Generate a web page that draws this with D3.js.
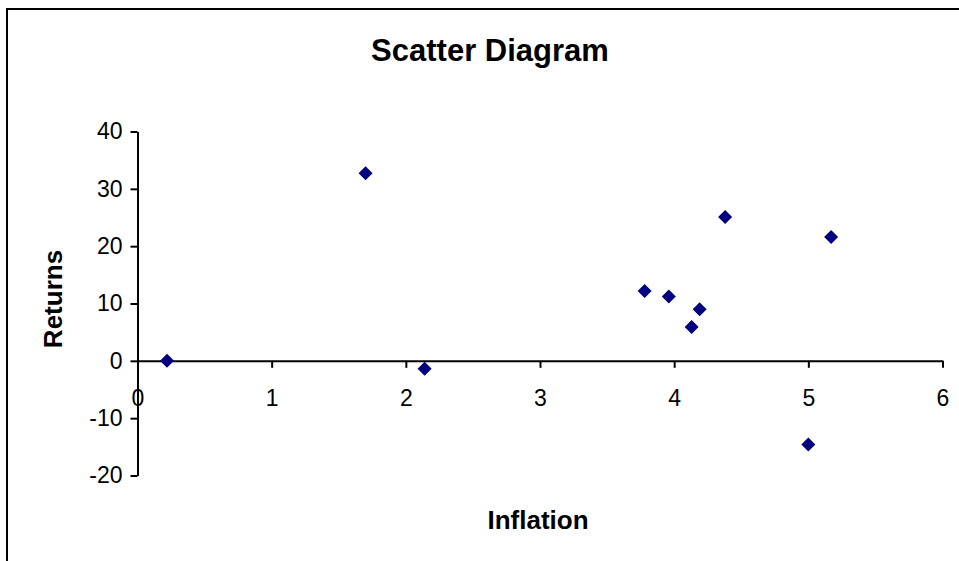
<!DOCTYPE html>
<html>
<head>
<meta charset="utf-8">
<script src="https://cdn.jsdelivr.net/npm/d3@7"></script>
<style>
  html, body { margin: 0; padding: 0; background: #fff; }
  svg { display: block; font-family: "Liberation Sans", Arial, sans-serif; }
</style>
</head>
<body>
<svg id="chart" width="959" height="561"></svg>
<script>
const inflation = [0.22, 1.70, 2.14, 3.78, 3.96, 4.19, 4.13, 4.38, 5.17, 5.00];
const returns   = [0.0, 32.7, -1.4, 12.2, 11.2, 9.0, 5.9, 25.1, 21.6, -14.6];
const xTicks = [0, 1, 2, 3, 4, 5, 6];
const yTicks = [-20, -10, 0, 10, 20, 30, 40];
const titleText = "Scatter Diagram";
const xTitle = "Inflation";
const yTitle = "Returns";

const svg = d3.select("#chart");
const fmt = d => String(d);

// outer chart frame (cropped at right/bottom like the reference)
svg.append("rect")
  .attr("x", 7).attr("y", 9).attr("width", 1000).attr("height", 600)
  .attr("fill", "none").attr("stroke", "#000").attr("stroke-width", 2);

const x = d3.scaleLinear().domain([0, 6]).range([137.5, 942.5]);
const y = d3.scaleLinear().domain([-20, 40]).range([475.5, 131.5]);

// Y axis
const yAxis = svg.append("g")
  .attr("transform", `translate(${x(0)},0)`)
  .call(d3.axisLeft(y).tickValues(yTicks).tickSize(7).tickSizeOuter(0).tickPadding(8).tickFormat(fmt));
yAxis.select(".domain").attr("stroke", "#000").attr("stroke-width", 2);
yAxis.selectAll(".tick line").attr("stroke", "#000").attr("stroke-width", 2);
yAxis.selectAll(".tick text").attr("font-size", 23).attr("fill", "#000")
  .attr("font-family", "'Liberation Sans', Arial, sans-serif");

// X axis at y = 0
const xAxis = svg.append("g")
  .attr("transform", `translate(0,${y(0)})`)
  .call(d3.axisBottom(x).tickValues(xTicks).tickSize(7).tickSizeOuter(0).tickPadding(22).tickFormat(fmt));
xAxis.select(".domain").attr("stroke", "#000").attr("stroke-width", 2);
xAxis.selectAll(".tick line").attr("stroke", "#000").attr("stroke-width", 2);
xAxis.selectAll(".tick text").attr("font-size", 23).attr("fill", "#000")
  .attr("font-family", "'Liberation Sans', Arial, sans-serif");

// points
const pts = inflation.map((v, i) => ({ x: v, y: returns[i] }));
svg.append("g").selectAll("path")
  .data(pts)
  .join("path")
  .attr("d", d3.symbol().type(d3.symbolSquare).size(98))
  .attr("transform", d => `translate(${x(d.x)},${y(d.y)}) rotate(45)`)
  .attr("fill", "#000080");

// title
svg.append("text")
  .attr("x", 490).attr("y", 61)
  .attr("text-anchor", "middle")
  .attr("font-size", 31).attr("font-weight", "bold")
  .text(titleText);

// x title
svg.append("text")
  .attr("x", 538).attr("y", 529)
  .attr("text-anchor", "middle")
  .attr("font-size", 26).attr("font-weight", "bold")
  .text(xTitle);

// y title
svg.append("text")
  .attr("transform", "translate(62,299) rotate(-90)")
  .attr("text-anchor", "middle")
  .attr("font-size", 26).attr("font-weight", "bold")
  .text(yTitle);
</script>
</body>
</html>
